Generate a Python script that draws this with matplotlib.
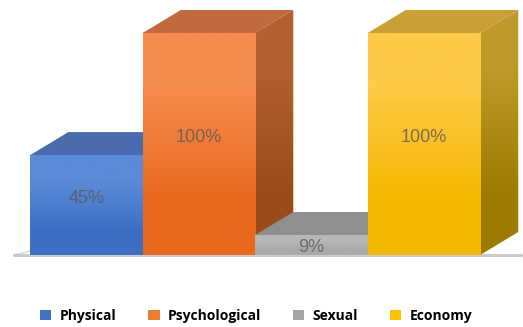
import matplotlib
matplotlib.use("Agg")
import matplotlib.pyplot as plt
import numpy as np
from matplotlib.patches import Polygon, Patch
from matplotlib.colors import to_rgb

categories = ['Physical', 'Psychological', 'Sexual', 'Economy']
values = [45, 100, 9, 100]
labels = ['45%', '100%', '9%', '100%']

front_top = ['#5b8bd8', '#f68c4e', '#b8b8b8', '#ffca45']
front_bot = ['#3d6ec4', '#e8691e', '#a9a9a9', '#f4b800']
top_col = ['#4a6bae', '#c06a3d', '#8f8f8f', '#c9a036']
side_top = ['#3a5a99', '#b0612f', '#7d7d7d', '#bf9a2a']
side_bot = ['#2f4f8a', '#9a4c18', '#6e6e6e', '#9c7b00']
legend_col = ['#4472c4', '#ed7d31', '#a5a5a5', '#ffc000']

# depth of the fake 3d box, in data units
dx, dy = 0.34, 10.4


def grad(ax, x0, x1, y0, y1, ctop, cbot, clip=None, z=1):
    c = np.array([to_rgb(ctop), to_rgb(cbot)]).reshape(2, 1, 3)
    im = ax.imshow(c, extent=[x0, x1, y0, y1], aspect='auto',
                   interpolation='bilinear', zorder=z, origin='upper')
    if clip is not None:
        ax.add_patch(clip)
        im.set_clip_path(clip)
    return im


fig = plt.figure(figsize=(5.23, 3.27), dpi=100)
ax = fig.add_axes([0, 0, 1, 1])

# floor shadow
ax.plot([-0.14, 4 + dx + 0.02], [0, 0], color='#9a9a9a', lw=2.2, alpha=0.5,
        solid_capstyle='round', zorder=0.5)
ax.plot([-0.14, 0.05], [0, 2.5], color='#b0b0b0', lw=1.2, alpha=0.4, zorder=0.5)

for i, v in enumerate(values):
    z = 1 + i
    x0, x1 = i, i + 1
    # top face
    ax.add_patch(Polygon([(x0, v), (x0 + dx, v + dy), (x1 + dx, v + dy), (x1, v)],
                         closed=True, facecolor=top_col[i], edgecolor='none', zorder=z))
    # right side face
    side = Polygon([(x1, 0), (x1 + dx, dy), (x1 + dx, v + dy), (x1, v)],
                   closed=True, facecolor='none', edgecolor='none', zorder=z)
    grad(ax, x1, x1 + dx, 0, v + dy, side_top[i], side_bot[i], clip=side, z=z)
    # front face
    grad(ax, x0, x1, 0, v, front_top[i], front_bot[i], z=z + 0.5)
    ax.text(i + 0.5, v / 2 + 3 if v > 20 else v * 0.4, labels[i],
            ha='center', va='center', fontsize=13, family='Liberation Sans',
            color='#5a5a5a', alpha=0.8, zorder=20)

ax.set_xlim(-0.267, 4.382)
ax.set_ylim(-32.4, 114.9)
ax.axis('off')

handles = [Patch(facecolor=c, edgecolor='none', label=n) for c, n in zip(legend_col, categories)]
fig.legend(handles=handles, loc='lower center', bbox_to_anchor=(0.49, -0.025), ncol=4,
           frameon=False, handlelength=0.8, handleheight=0.8, handletextpad=0.6,
           columnspacing=2.3, prop={'weight': 'bold', 'size': 10, 'family': 'Open Sans'})

fig.savefig('out.png', dpi=100)
